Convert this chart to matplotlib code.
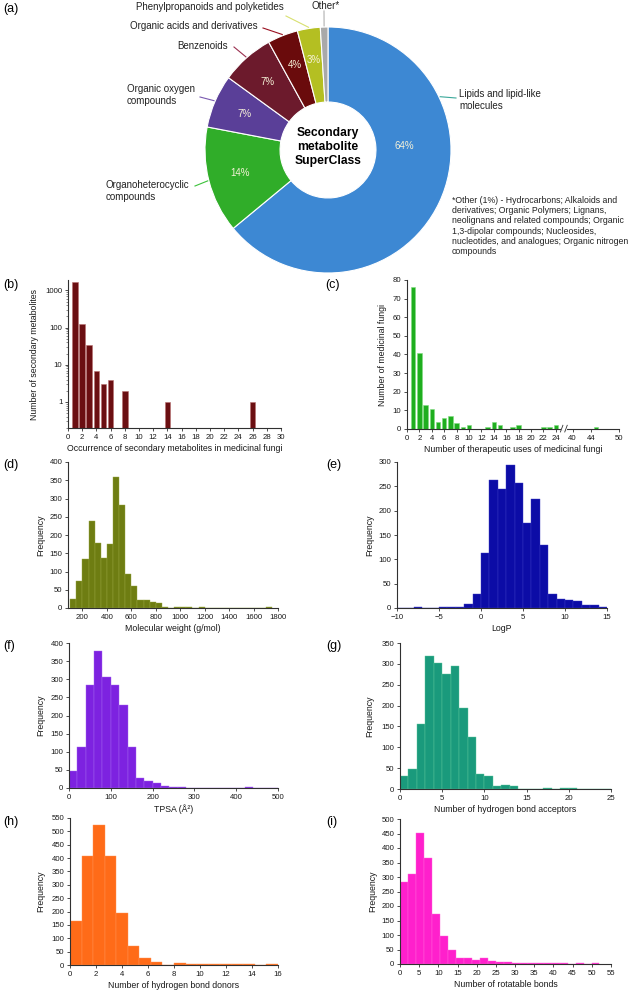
import numpy as np
import matplotlib
matplotlib.use("Agg")
import matplotlib.pyplot as plt

plt.rcParams['font.family'] = ['Liberation Sans', 'DejaVu Sans']

W, H = 629, 992

# (a) secondary metabolite superclass shares (%), clockwise from 12 o'clock
classes = ["Lipids and lipid-like\nmolecules", "Organoheterocyclic\ncompounds",
           "Organic oxygen\ncompounds", "Benzenoids", "Organic acids and derivatives",
           "Phenylpropanoids and polyketides", "Other*"]
shares = [64, 14, 7, 7, 4, 3, 1]
pct_labels = ["64%", "14%", "7%", "7%", "4%", "3%", ""]
class_colors = ["#3d88d3", "#30ad29", "#5a3f98", "#6c1a2c", "#6a0b0c", "#b4bf22", "#a9a9a9"]
line_colors = ["#3aa89a", "#3cc23a", "#7a5ab0", "#9a3050", "#9a1020", "#d8e070", "#b0b0b0"]
footnote = ("*Other (1%) - Hydrocarbons; Alkaloids and\nderivatives; Organic Polymers; Lignans,\n"
            "neolignans and related compounds; Organic\n1,3-dipolar compounds; Nucleosides,\n"
            "nucleotides, and analogues; Organic nitrogen\ncompounds")

# (b) occurrence of metabolites in fungi
occ_x = [1, 2, 3, 4, 5, 6, 8, 14, 26]
occ_n = [1650, 127, 33, 7, 3, 4, 2, 1, 1]

# (c) therapeutic uses per fungus
use_x = list(range(1, 25)) + [45]
use_n = [76, 41, 13, 11, 4, 6, 7, 3, 1, 2, 0, 0, 1, 4, 2, 0, 1, 2, 0, 0, 0, 1, 1, 2, 1]
use_ticks = [0, 2, 4, 6, 8, 10, 12, 14, 16, 18, 20, 22, 24, 40, 44, 50]

# (d) molecular weight, bins of 50 from 100
mw_counts = [25, 75, 134, 237, 178, 136, 174, 358, 281, 94, 60, 23, 21, 16, 14, 3, 1, 4, 3, 2,
             0, 2, 0, 0, 0, 0, 0, 0, 0, 0, 0, 0, 2]
# (e) LogP, bins of 1 from -10
logp_counts = [1, 0, 3, 0, 0, 3, 3, 3, 8, 28, 113, 262, 245, 293, 256, 175, 225, 130, 29, 18,
               16, 15, 6, 7, 3]
# (f) TPSA, bins of 20 from 0
tpsa_counts = [46, 114, 285, 378, 305, 285, 228, 112, 28, 20, 14, 6, 3, 3, 0, 0, 1, 1, 0, 0,
               0, 2, 1, 1, 0]
# (g) H-bond acceptors, bins of 1 from 0
hba_counts = [30, 48, 155, 320, 301, 275, 294, 194, 124, 37, 30, 6, 10, 8, 1, 1, 0, 2, 0, 2,
              2, 0, 0, 0, 0]
# (h) H-bond donors, 18 bins over 0-16
hbd_counts = [166, 409, 525, 409, 194, 72, 27, 12, 1, 7, 5, 4, 3, 3, 2, 2, 1, 4]
# (i) rotatable bonds
rotb_counts = [283, 310, 451, 365, 172, 95, 48, 21, 22, 15, 20, 9, 6, 6, 2, 3, 5, 4, 2, 4,
               4, 1, 4, 1, 2]

fig = plt.figure(figsize=(W / 100, H / 100), dpi=100)


def place(L, T, R, B):
    return fig.add_axes([L / W, 1 - B / H, (R - L) / W, (B - T) / H])


def style(ax, ylab, ylab_x, xlab):
    for s in ['top', 'right']:
        ax.spines[s].set_visible(False)
    for s in ['left', 'bottom']:
        ax.spines[s].set_linewidth(0.8)
        ax.spines[s].set_color('#303030')
    ax.tick_params(direction='out', length=2.5, width=0.6, labelsize=5.6, pad=1.5,
                   color='#303030', labelcolor='#1a1a1a')
    ax.set_xlabel(xlab, fontsize=6.3, labelpad=2.5, color='#1a1a1a')
    ax.set_ylabel(ylab, fontsize=6.3, color='#1a1a1a')
    pos = ax.get_position()
    L = pos.x0 * W
    ax.yaxis.set_label_coords((ylab_x - L) / (pos.width * W), 0.5)


def panel(x, y, s):
    fig.text(x / W, 1 - y / H, s, fontsize=9, ha='left', va='center')


def hist(ax, start, width, counts, color, edge):
    edges = start + width * np.arange(len(counts))
    ax.bar(edges, counts, width=width, align='edge', color=color, edgecolor=edge, linewidth=0.3)


# ---- (a) donut ----
ax0 = fig.add_axes([0, 1 - 280 / H, 1, 280 / H])
R = 123
cx, cy = 328, 280 - 150
wedges, _ = ax0.pie(shares, colors=class_colors, startangle=90, counterclock=False, radius=R,
                    center=(cx, cy), wedgeprops=dict(width=R * 0.61, edgecolor='white', linewidth=0.8))
ax0.set_xlim(0, W)
ax0.set_ylim(0, 280)
ax0.set_aspect('equal')
ax0.axis('off')

for i, w in enumerate(wedges):
    mid = np.deg2rad((w.theta1 + w.theta2) / 2)
    r = 0.74 * R
    if i == 0:
        mid, r = np.deg2rad(3), 0.62 * R
    ax0.text(cx + r * np.cos(mid), cy + r * np.sin(mid), pct_labels[i], fontsize=7,
             color='#f6f2d8', ha='center', va='center')

# label anchors (px) and leader line ends
lab_pos = [(459, 100), (106, 191), (127, 95), (177, 46), (130, 26), (136, 7), (311, 6)]
line_end = [(456, 98), (195, 186), (200, 97), (234, 47), (263, 28), (286, 16), (324, 11)]
for i, w in enumerate(wedges):
    mid = np.deg2rad((w.theta1 + w.theta2) / 2)
    if i == 0:
        mid = np.deg2rad(25.4)
    ex, ey = cx + 1.01 * R * np.cos(mid), cy + 1.01 * R * np.sin(mid)
    lx, ly = line_end[i]
    ax0.plot([ex, lx], [ey, 280 - ly], color=line_colors[i], lw=0.8)
    tx, ty = lab_pos[i]
    ax0.text(tx, 280 - ty, classes[i], fontsize=7, ha='left', va='center', color='#222222',
             linespacing=1.2)

ax0.text(cx, 280 - 147, "Secondary\nmetabolite\nSuperClass", fontsize=8.7, weight='bold',
         ha='center', va='center', linespacing=1.2)
ax0.text(452, 280 - 196, footnote, fontsize=6.3, ha='left', va='top', linespacing=1.17,
         color='#222222')
panel(3, 9, "(a)")

# ---- (b) ----
axb = place(68, 280, 281, 428)
axb.bar(occ_x, occ_n, width=0.8, color='#6b0f12', edgecolor='#b87070', linewidth=0.4)
axb.set_yscale('log')
axb.set_ylim(0.2, 1900)
axb.set_xlim(0, 30)
axb.set_xticks(range(0, 31, 2))
axb.set_yticks([1, 10, 100, 1000])
axb.set_yticklabels(['1', '10', '100', '1000'])
style(axb, "Number of secondary metabolites", 39, "Occurrence of secondary metabolites in medicinal fungi")
axb.tick_params(which='minor', length=1.3, width=0.4, color='#303030')
panel(3, 285, "(b)")


# ---- (c) broken x axis ----
def brk(x):
    x = np.asarray(x, float)
    return np.where(x <= 30, x, 26.7 + 0.75 * (x - 40))


axc = place(407, 280, 619, 429)
axc.bar(brk(use_x), use_n, width=0.72, color='#1fae1f', edgecolor='#80dc80', linewidth=0.4)
axc.set_xlim(0, float(brk(50)))
axc.set_ylim(0, 80)
axc.set_yticks(range(0, 81, 10))
axc.set_xticks(brk(use_ticks))
axc.set_xticklabels([str(t) for t in use_ticks])
style(axc, "Number of medicinal fungi", 387, "Number of therapeutic uses of medicinal fungi")
tr = axc.get_xaxis_transform()
axc.plot([24.95, 25.65], [0, 0], color='white', lw=1.5, transform=tr, clip_on=False, zorder=5)
for p in [24.95, 25.65]:
    axc.plot([p - 0.2, p + 0.2], [-0.02, 0.025], color='#303030', lw=0.6, transform=tr,
             clip_on=False, zorder=6)
panel(325, 285, "(c)")

# ---- (d) ----
axd = place(68, 462, 278, 608)
hist(axd, 100, 50, mw_counts, '#6e7d12', '#98a640')
axd.set_xlim(82, 1800)
axd.set_ylim(0, 400)
axd.set_xticks(range(200, 1801, 200))
axd.set_yticks(range(0, 401, 50))
style(axd, "Frequency", 45, "Molecular weight (g/mol)")
panel(3, 465, "(d)")

# ---- (e) ----
axe = place(397, 462, 607, 608)
hist(axe, -10, 1, logp_counts, '#0c0ca6', '#3a3ac4')
axe.set_xlim(-10, 15)
axe.set_ylim(0, 300)
axe.set_xticks(range(-10, 16, 5))
axe.set_yticks(range(0, 301, 50))
style(axe, "Frequency", 374, "LogP")
panel(326, 465, "(e)")

# ---- (f) ----
axf = place(69, 643, 278, 788)
hist(axf, 0, 20, tpsa_counts, '#7d22e0', '#a566f0')
axf.set_xlim(0, 500)
axf.set_ylim(0, 400)
axf.set_xticks(range(0, 501, 100))
axf.set_yticks(range(0, 401, 50))
style(axf, "Frequency", 45, "TPSA (Å²)")
panel(3, 646, "(f)")

# ---- (g) ----
axg = place(400, 643, 611, 789)
hist(axg, 0, 1, hba_counts, '#1a9a7c', '#5cc89c')
axg.set_xlim(0, 25)
axg.set_ylim(0, 350)
axg.set_xticks(range(0, 26, 5))
axg.set_yticks(range(0, 351, 50))
style(axg, "Frequency", 374, "Number of hydrogen bond acceptors")
panel(326, 646, "(g)")

# ---- (h) ----
axh = place(70, 818, 278, 965)
hist(axh, 0, 16 / len(hbd_counts), hbd_counts, '#ff6b18', '#ff9455')
axh.set_xlim(0, 16)
axh.set_ylim(0, 550)
axh.set_xticks(range(0, 17, 2))
axh.set_yticks(range(0, 551, 50))
style(axh, "Frequency", 45, "Number of hydrogen bond donors")
panel(3, 822, "(h)")

# ---- (i) ----
axi = place(400, 819, 611, 964)
hist(axi, 0, 2.08, rotb_counts, '#ff20cc', '#ff66dd')
axi.set_xlim(0, 55)
axi.set_ylim(0, 500)
axi.set_xticks(range(0, 56, 5))
axi.set_yticks(range(0, 501, 50))
style(axi, "Frequency", 377, "Number of rotatable bonds")
panel(326, 822, "(i)")

fig.savefig("out.png", dpi=100)
